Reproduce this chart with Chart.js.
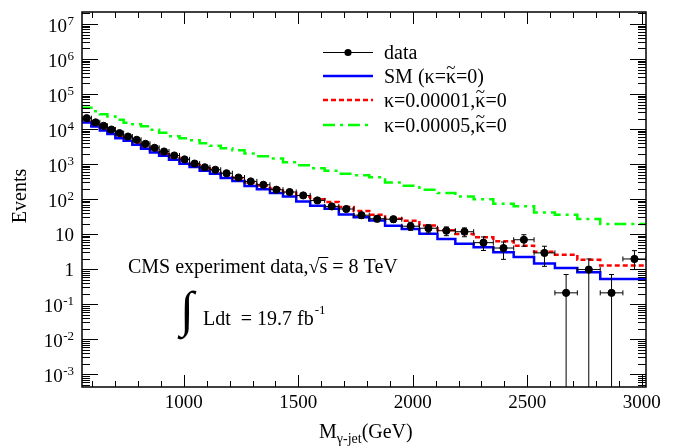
<!DOCTYPE html>
<html>
<head>
<meta charset="utf-8">
<script src="https://cdn.jsdelivr.net/npm/chart.js@4.4.0/dist/chart.umd.min.js"></script>
<style>
  html, body { margin: 0; padding: 0; background: #fff; }
</style>
</head>
<body>
<canvas id="chart" width="686" height="446"></canvas>
<script>
// bin edges in GeV (41 edges -> 40 bins)
const binEdges = [555, 596, 633, 666, 701, 737, 775, 813, 852, 892, 935, 981, 1025, 1069, 1114, 1161, 1212, 1265, 1319, 1376, 1433, 1491, 1552, 1615, 1677, 1742, 1810, 1879, 1952, 2029, 2108, 2186, 2266, 2352, 2441, 2530, 2621, 2719, 2819, 2918, 3019];

const dataEvents = [20500, 15500, 12350, 9690, 7650, 6110, 4920, 3780, 2910, 2285, 1758, 1360, 1032, 809, 687, 546, 412, 319, 256, 185, 159, 127, 91.5, 61.7, 52, 34.6, 27.5, 26.6, 16.8, 14.7, 12.5, 11.7, 5.7, 4.0, 6.9, 2.9, 0.21, 0.97, 0.21, 1.95];
const dataErrUp = [143, 124, 111, 98, 87, 78, 70, 61, 54, 48, 42, 37, 32, 28, 26, 23, 20, 18, 16, 14, 13, 11, 9.6, 7.9, 7.2, 5.9, 5.2, 5.2, 5.0, 3.8, 3.5, 3.3, 2.6, 1.95, 2.7, 1.6, 0.49, 0.98, 0.49, 1.42];
const dataErrDown = [143, 124, 111, 98, 87, 78, 70, 61, 54, 48, 42, 37, 32, 28, 26, 23, 20, 18, 16, 14, 13, 11, 9.6, 7.9, 7.2, 5.9, 5.2, 5.2, 4.0, 3.9, 3.5, 3.3, 2.3, 2.1, 2.4, 1.7, 0.21, 0.97, 0.21, 0.98];

const smEvents = [19540, 15350, 11800, 9070, 7160, 5500, 4610, 3550, 2730, 2140, 1723, 1325, 1019, 820, 643, 528, 398, 327, 236, 190, 149, 119, 85.8, 64.6, 53.1, 36.5, 30.4, 24.4, 17.4, 14.0, 10.3, 7.26, 5.33, 4.18, 3.01, 2.23, 1.44, 1.08, 0.81, 0.52];
const k1Events = [20180, 16060, 12360, 9490, 7540, 5880, 4920, 3790, 2950, 2345, 1900, 1482, 1162, 935, 748, 614, 478, 398, 292, 245, 197, 152, 119, 99, 82.4, 59.3, 45.6, 35.8, 27.5, 24.1, 17.7, 12.9, 10.1, 8.07, 6.29, 4.68, 3.11, 2.59, 1.84, 1.26];
const k5Events = [44460, 40300, 32000, 26300, 22750, 18330, 15040, 13630, 11950, 9490, 7790, 6200, 5430, 4760, 3960, 3320, 2850, 2470, 1990, 1667, 1433, 1124, 923, 758, 643, 528, 479, 420, 298, 240, 185, 149, 119, 99, 73.7, 62.5, 41.6, 35.8, 27, 19.4];

const seriesLabels = ['data', 'SM (κ=κ\u0303=0)', 'κ=0.00001,κ\u0303=0', 'κ=0.00005,κ\u0303=0'];
const xTickLabels = ['1000', '1500', '2000', '2500', '3000'];
const yTickLabels = ['10^7', '10^6', '10^5', '10^4', '10^3', '10^2', '10', '1', '10^-1', '10^-2', '10^-3'];

const serif = '"Liberation Serif", "Times New Roman", serif';

const centers = dataEvents.map((v, i) => (binEdges[i] + binEdges[i + 1]) / 2);
const steps = vals => binEdges.map((e, i) => ({ x: e, y: vals[Math.min(i, vals.length - 1)] }));
const tickValue = s => s.includes('^') ? Math.pow(10, Number(s.split('^')[1])) : Number(s);

// draw text char by char so a combining tilde can sit over its kappa
function drawLabel(ctx, text, x, y) {
  let cx = x;
  for (let i = 0; i < text.length; i++) {
    const ch = text[i];
    if (ch === '\u0303') continue;
    const w = ctx.measureText(ch).width;
    ctx.fillText(ch, cx, y);
    if (text[i + 1] === '\u0303') {
      ctx.save();
      ctx.textAlign = 'center';
      ctx.font = '17px ' + serif;
      ctx.fillText('~', cx + w / 2, y - 10);
      ctx.restore();
    }
    cx += w;
  }
}

const rootStyle = {
  id: 'rootStyle',
  beforeDatasetDraw(chart, args) {
    if (args.index !== 0) return;
    const { ctx, chartArea: a, scales: { x, y } } = chart;
    ctx.save();
    ctx.beginPath();
    ctx.rect(a.left, a.top, a.right - a.left, a.bottom - a.top);
    ctx.clip();
    ctx.strokeStyle = '#000';
    ctx.lineWidth = 1;
    dataEvents.forEach((v, i) => {
      const cx = x.getPixelForValue(centers[i]);
      const cy = y.getPixelForValue(v);
      const x0 = x.getPixelForValue(binEdges[i]);
      const x1 = x.getPixelForValue(binEdges[i + 1]);
      const lo = v - dataErrDown[i];
      const yLo = lo > 0 ? y.getPixelForValue(lo) : a.bottom;
      const yHi = y.getPixelForValue(v + dataErrUp[i]);
      ctx.beginPath();
      ctx.moveTo(x0, cy); ctx.lineTo(x1, cy);
      ctx.moveTo(x0, cy - 2.5); ctx.lineTo(x0, cy + 2.5);
      ctx.moveTo(x1, cy - 2.5); ctx.lineTo(x1, cy + 2.5);
      ctx.moveTo(cx, yHi); ctx.lineTo(cx, yLo);
      ctx.moveTo(cx - 2.5, yHi); ctx.lineTo(cx + 2.5, yHi);
      if (lo > 0) { ctx.moveTo(cx - 2.5, yLo); ctx.lineTo(cx + 2.5, yLo); }
      ctx.stroke();
    });
    ctx.restore();
  },
  afterDraw(chart) {
    const { ctx, chartArea: a, scales: { x, y } } = chart;
    ctx.save();
    ctx.strokeStyle = '#000';
    ctx.fillStyle = '#000';

    // ticks (inside, all four sides)
    ctx.lineWidth = 1;
    ctx.beginPath();
    for (let v = 600; v <= 3000; v += 100) {
      const px = Math.round(x.getPixelForValue(v)) + 0.5;
      const len = v % 500 === 0 ? 12 : 6;
      ctx.moveTo(px, a.bottom); ctx.lineTo(px, a.bottom - len);
      ctx.moveTo(px, a.top); ctx.lineTo(px, a.top + len);
    }
    for (let d = -4; d <= 7; d++) {
      for (let k = 1; k <= 9; k++) {
        const v = k * Math.pow(10, d);
        if (v < y.min || v > y.max) continue;
        const py = Math.round(y.getPixelForValue(v)) + 0.5;
        const len = k === 1 ? 16 : 8;
        ctx.moveTo(a.left, py); ctx.lineTo(a.left + len, py);
        ctx.moveTo(a.right, py); ctx.lineTo(a.right - len, py);
      }
    }
    ctx.stroke();

    // frame
    ctx.lineWidth = 1.5;
    ctx.strokeRect(a.left, a.top, a.right - a.left, a.bottom - a.top);

    // x tick labels
    ctx.font = '19px ' + serif;
    ctx.textAlign = 'center';
    ctx.textBaseline = 'alphabetic';
    xTickLabels.forEach(s => {
      ctx.fillText(s, x.getPixelForValue(Number(s)), 408);
    });

    // y tick labels
    const labRight = 74;
    yTickLabels.forEach(s => {
      const py = y.getPixelForValue(tickValue(s));
      if (s.includes('^')) {
        const [base, exp] = s.split('^');
        ctx.font = '13px ' + serif;
        ctx.textAlign = 'right';
        ctx.fillText(exp, labRight, py + 1);
        const we = ctx.measureText(exp).width;
        ctx.font = '19px ' + serif;
        ctx.fillText(base, labRight - we - 0.5, py + 8);
      } else {
        ctx.font = '19px ' + serif;
        ctx.textAlign = 'right';
        ctx.fillText(s, labRight, py + 7);
      }
    });

    // axis titles
    ctx.save();
    ctx.translate(26, 196);
    ctx.rotate(-Math.PI / 2);
    ctx.font = '20px ' + serif;
    ctx.textAlign = 'center';
    ctx.fillText('Events', 0, 0);
    ctx.restore();

    ctx.textAlign = 'left';
    let tx = 319;
    ctx.font = '20px ' + serif;
    ctx.fillText('M', tx, 438);
    tx += ctx.measureText('M').width;
    ctx.font = '14px ' + serif;
    ctx.fillText('γ-jet', tx, 443);
    tx += ctx.measureText('γ-jet').width;
    ctx.font = '20px ' + serif;
    ctx.fillText('(GeV)', tx, 438);

    // legend
    const rows = [52, 76, 100, 125];
    const lx0 = 323, lx1 = 373;
    const styles = chart.data.datasets;
    rows.forEach((ry, i) => {
      const ds = styles[i];
      const ly = i === 0 ? ry + 0.5 : ry;
      ctx.save();
      ctx.beginPath();
      ctx.strokeStyle = ds.borderColor;
      ctx.lineWidth = i === 0 ? 1 : ds.borderWidth;
      ctx.setLineDash(ds.borderDash || []);
      ctx.moveTo(lx0, ly); ctx.lineTo(lx1, ly);
      ctx.stroke();
      if (i === 0) {
        ctx.beginPath();
        ctx.fillStyle = '#000';
        ctx.arc((lx0 + lx1) / 2, ly, 3.6, 0, Math.PI * 2);
        ctx.fill();
      }
      ctx.restore();
      ctx.font = '20px ' + serif;
      ctx.textAlign = 'left';
      ctx.textBaseline = 'alphabetic';
      drawLabel(ctx, seriesLabels[i], 384, ry + 7);
    });

    // annotation: CMS data, sqrt(s)
    ctx.font = '20px ' + serif;
    let ax = 128;
    const ay = 273;
    ctx.fillText('CMS experiment data,', ax, ay);
    ax += ctx.measureText('CMS experiment data,').width;
    ctx.fillText('√', ax, ay);
    ax += ctx.measureText('√').width;
    const ws = ctx.measureText('s').width;
    ctx.fillText('s', ax, ay);
    ctx.lineWidth = 1;
    ctx.beginPath();
    ctx.moveTo(ax - 1, ay - 15.5); ctx.lineTo(ax + ws + 1, ay - 15.5);
    ctx.stroke();
    ax += ws;
    ctx.fillText(' = 8 TeV', ax, ay);

    // integrated luminosity
    ctx.font = '50px ' + serif;
    ctx.fillText('∫', 180, 326);
    ctx.font = '20px ' + serif;
    let lx = 203;
    ctx.fillText('Ldt  = 19.7 fb', lx, 325);
    lx += ctx.measureText('Ldt  = 19.7 fb').width;
    ctx.font = '13px ' + serif;
    ctx.fillText('-1', lx + 1, 314);

    ctx.restore();
  }
};

new Chart(document.getElementById('chart'), {
  type: 'line',
  data: {
    datasets: [
      {
        label: seriesLabels[0],
        type: 'scatter',
        data: centers.map((c, i) => ({ x: c, y: dataEvents[i] })),
        showLine: false,
        pointRadius: 3.6,
        pointBackgroundColor: '#000',
        pointBorderColor: '#000',
        borderColor: '#000',
        borderWidth: 1
      },
      {
        label: seriesLabels[1],
        data: steps(smEvents),
        stepped: 'after',
        borderColor: '#0000ff',
        borderWidth: 2.5,
        pointRadius: 0,
        fill: false
      },
      {
        label: seriesLabels[2],
        data: steps(k1Events),
        stepped: 'after',
        borderColor: '#ff0000',
        borderWidth: 2.5,
        borderDash: [5, 3],
        pointRadius: 0,
        fill: false
      },
      {
        label: seriesLabels[3],
        data: steps(k5Events),
        stepped: 'after',
        borderColor: '#00ff00',
        borderWidth: 2.5,
        borderDash: [12, 5, 3, 5],
        pointRadius: 0,
        fill: false
      }
    ]
  },
  options: {
    responsive: false,
    animation: false,
    devicePixelRatio: 1,
    events: [],
    layout: { padding: { left: 82, right: 40, top: 12, bottom: 59 } },
    scales: {
      x: { type: 'linear', display: false, min: 555, max: 3019 },
      y: { type: 'logarithmic', display: false, min: 4.3e-4, max: 2.2e7 }
    },
    plugins: {
      legend: { display: false },
      tooltip: { enabled: false }
    }
  },
  plugins: [rootStyle]
});
</script>
</body>
</html>
